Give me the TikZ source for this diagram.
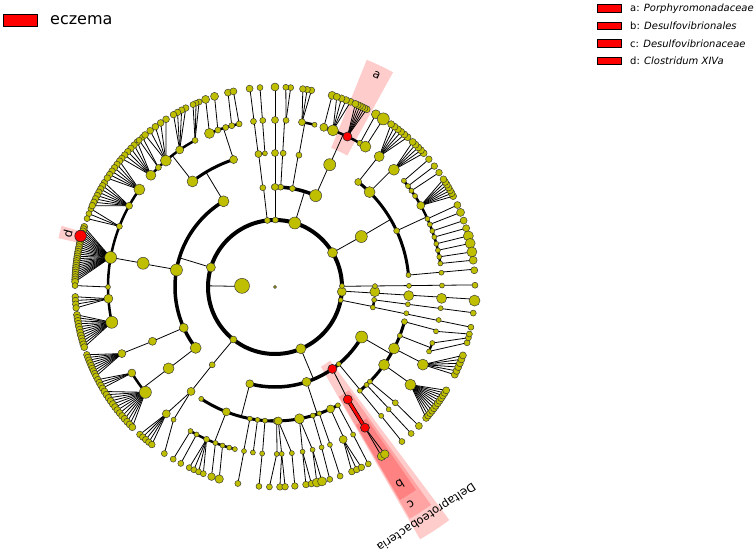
\documentclass[tikz,border=0pt]{standalone}
\usepackage{fontspec}
\usepackage{etoolbox}
\setmainfont{DejaVu Sans}
\definecolor{yel}{RGB}{191,191,0}
\tikzset{
  yn/.style={fill=yel, draw=black!80, line width=0.45pt},
  rn/.style={fill=red, draw=black!85, line width=0.6pt},
  tl/.style={line width=0.8pt, draw=black},
  hl/.style={fill=red, fill opacity=0.2},
  lab/.style={font=\fontsize{12}{14}\selectfont, inner sep=0pt},
  legbox/.style={fill=red, draw=black, line width=0.8pt},
  legtxt/.style={anchor=west, inner sep=0pt, font=\fontsize{10}{12}\selectfont},
}
\newcommand\nodelist{}
\newcommand\cnd[3]{\xappto\nodelist{\noexpand\filldraw[yn] (#1:#2pt) circle[radius=#3pt];}}
\newcommand\crn[3]{\xappto\nodelist{\noexpand\filldraw[rn] (#1:#2pt) circle[radius=#3pt];}}
\newcommand\crad[3]{\draw[tl] (#1:#2pt) -- (#1:#3pt);}
\newcommand\clnk[4]{\draw[tl] (#1:#2pt) -- (#3:#4pt);}
\newcommand\carc[4]{\draw[line width=#4pt] (#2:#1pt) arc[start angle=#2, end angle=#3, radius=#1pt];}
\newcommand\cfan[5]{\foreach \ii in {1,...,#4}{\pgfmathsetmacro\ang{#2+(\ii-1)*(#3-#2)/max(#4-1,1)}\draw[tl] (#1:167pt) -- (\ang:200pt);\xappto\nodelist{\noexpand\filldraw[yn] (\ang:200pt) circle[radius=#5pt];}}}
\newcommand\cleaf[3]{\cfan{#1}{#2}{#2}{1}{#3}}
\newcommand\cwedge[4]{\fill[hl] (#1:#3pt) arc[start angle=#1,end angle=#2,radius=#3pt] -- (#2:#4pt) arc[start angle=#2,end angle=#1,radius=#4pt] -- cycle;}
\begin{document}
\begin{tikzpicture}
\useasboundingbox (-275pt,-267pt) rectangle (481pt,287pt);
% highlights
\cwedge{61.2}{68}{150}{245}
\cwedge{164}{167.3}{198}{222}
\cwedge{-60.1}{-53.2}{92}{291}
\cwedge{-59.8}{-54.4}{127}{268}
\cwedge{-59.6}{-55.2}{160}{247}
% root and phylum ring
\draw[line width=4pt] (0,0) circle[radius=67pt];
\cnd{0}{0}{1.5}
\crad{179}{33}{67}
\cnd{178}{33}{7.5}
% ---- phylum 163
\crad{163}{67}{100}
\carc{100}{121}{217.5}{3.5}
\cnd{163}{67}{4.5}
\crad{121}{100}{134}
\carc{134}{108}{128}{3}
\cnd{121}{100}{5.5}
\crad{128}{134}{167}
\carc{167}{118.6}{138}{2.5}
\cnd{128}{134}{5.5}
\cfan{138}{133.5}{140}{6}{3.3}\cnd{138}{167}{5}
\cfan{134.3}{131.5}{132.8}{2}{3}\cnd{134.3}{167}{3}
\cfan{130.8}{123}{130.5}{5}{3.4}\cnd{130.8}{167}{5.5}
\cfan{124.8}{116.5}{120.5}{4}{3.3}\cnd{124.8}{167}{4}
\cfan{118.6}{112.3}{114.2}{3}{3}\cnd{118.6}{167}{3}
\crad{108}{134}{167}
\carc{167}{102.4}{113.1}{2.5}
\cnd{108}{134}{4}
\cleaf{113.1}{110.3}{4}\cnd{113.1}{167}{5}
\cleaf{110}{107.6}{4}\cnd{110}{167}{3}
\cnd{107.2}{167}{3}
\cleaf{105}{103.6}{3.5}\cnd{105}{167}{3}
\cleaf{102.4}{102}{3.5}\cnd{102.4}{167}{3}
% class 170
\cnd{170.2}{100}{6}
\crad{170}{100}{134}
\cnd{169.8}{134}{6}
\crad{169.8}{134}{167}
\carc{167}{144.3}{192.2}{2.5}
\cfan{169.8}{162.5}{178.5}{25}{3.5}\cnd{169.8}{167}{6}
\crn{165.3}{201}{5.8}
\cfan{158.7}{157}{160}{3}{3}\cnd{158.7}{167}{3}
\cfan{150.9}{148.5}{156}{8}{3.3}\cnd{150.9}{167}{3.5}
\cfan{144.3}{141}{147}{6}{3.3}\cnd{144.3}{167}{5.5}
\cleaf{180}{179.6}{3}\cnd{180}{167}{2.5}
\cfan{184}{182.8}{186}{4}{3.3}\cnd{184}{167}{4.5}
\cfan{192.2}{188}{197.5}{12}{3.5}\cnd{192.2}{167}{6}
% class 204
\cnd{204.1}{100}{4.5}
\clnk{204.1}{100}{203.9}{134}
\cnd{203.9}{134}{4}
\clnk{203.9}{134}{203.5}{167}
\cfan{203.5}{199.8}{206.5}{9}{3.3}\cnd{203.5}{167}{4}
% class 217.5
\cnd{217.5}{100}{5.5}
\crad{217.5}{100}{134}
\cnd{217.4}{134}{5.5}
\crad{217.4}{134}{167}
\carc{167}{211}{219.1}{2.5}
\cfan{211}{207.6}{210.4}{4}{3.3}\cnd{211}{167}{4}
\cfan{219.1}{211.5}{224.5}{13}{3.5}\cnd{219.1}{167}{6}
% ---- phylum 231.6
\clnk{231.6}{67}{231.1}{100}
\cnd{231.6}{67}{3.5}
\clnk{231.1}{100}{231.2}{134}
\cnd{231.1}{100}{3}
\cnd{231.2}{134}{4}
\clnk{231.2}{134}{229.4}{167}
\clnk{231.2}{134}{232.6}{167}
\cfan{229.4}{227.5}{232}{5}{3.3}\cnd{229.4}{167}{4}
\cleaf{232.6}{236.4}{3}\cnd{232.6}{167}{2.5}
% ---- phylum 292.7
\crad{292.7}{67}{100}
\carc{100}{255.4}{330}{3.5}
\cnd{292.7}{67}{5}
% class 255.4
\crad{255.4}{100}{134}
\carc{134}{236.6}{270.7}{3}
\cnd{255.4}{100}{4}
\cnd{236.6}{134}{2.5}
\crad{248.7}{134}{167}
\carc{167}{239.6}{256.1}{2.5}
\cnd{248.7}{134}{4}
\cleaf{239.6}{239.4}{3}\cnd{239.6}{167}{2.5}
\cleaf{242}{241.9}{3}\cnd{242}{167}{2.5}
\cfan{245.8}{244.6}{249}{4}{3}\cnd{245.8}{167}{3}
\cleaf{249.1}{251.5}{3.8}\cnd{249.1}{167}{2.5}
\cleaf{251.7}{253.8}{4.2}\cnd{251.7}{167}{2.5}
\cnd{254.1}{167}{2.5}
\cnd{256.1}{167}{2.5}
\crad{259.2}{134}{167}\cnd{259.2}{134}{2.5}\cleaf{259.3}{259.3}{3}\cnd{259.3}{167}{2.5}
\crad{262.5}{134}{167}\cnd{262.5}{134}{2.5}\cnd{262.4}{167}{2.5}
\crad{265.7}{134}{167}\cnd{265.7}{134}{2.5}\cleaf{265.6}{265.4}{3}\cnd{265.6}{167}{2.5}
\crad{270.7}{134}{167}\cnd{270.7}{134}{3.5}\cleaf{270.6}{268.4}{3}\cnd{270.6}{167}{2.5}
% class 288.4
\crad{288.4}{100}{134}
\carc{134}{268}{298.8}{3}
\cnd{288.4}{100}{4.5}
\clnk{271.4}{134}{272.3}{167}\clnk{271.4}{134}{275.8}{167}\cnd{271.4}{134}{4}
\cfan{272.3}{271.4}{272.9}{2}{3.3}\cnd{272.3}{167}{2.5}
\cleaf{275.8}{275.7}{3.3}\cnd{275.8}{167}{2.5}
\clnk{280.5}{134}{279.5}{167}\clnk{280.5}{134}{283}{167}\cnd{280.5}{134}{5}
\cfan{279.5}{278.9}{280.5}{2}{3.3}\cnd{279.5}{167}{2.5}
\cfan{283}{282.1}{283.6}{2}{4.5}\cnd{283}{167}{2.5}
\crad{286.4}{134}{167}\cnd{286.4}{134}{2.5}\cleaf{286.2}{285.9}{3}\cnd{286.2}{167}{2.5}
\crad{289.3}{134}{167}\cnd{289.3}{134}{2.5}\cleaf{289.2}{289}{3}\cnd{289.2}{167}{2.5}
\crad{294.5}{134}{167}\cnd{294.5}{134}{4}\cfan{294.1}{292.6}{295.6}{3}{3.3}\cnd{294.1}{167}{4}
\crad{298}{134}{167}\cnd{298}{134}{2.5}\cleaf{297.9}{297.8}{3}\cnd{297.9}{167}{2.5}
% class 305 (Deltaproteobacteria)
\clnk{305}{100}{302.9}{134}
\draw[black, line width=4pt] (302.9:134pt) -- (302.6:167pt);
\draw[red, line width=2.6pt] (302.9:134pt) -- (302.6:167pt);
\cfan{302.6}{302.2}{303.3}{2}{4.3}
\crn{305}{100}{4.5}\crn{302.9}{134}{4.5}\crn{302.6}{167}{4.5}
% class 309.6
\crad{309.6}{100}{134}\cnd{309.6}{100}{2.5}
% class 330
\crad{330}{100}{134}
\carc{134}{309.3}{345}{3}
\cnd{330}{100}{6}
\crad{309.3}{134}{167}\cnd{309.3}{134}{2.5}\cleaf{309.5}{309.4}{3}\cnd{309.5}{167}{2.5}
\crad{313.1}{134}{167}\cnd{313.1}{134}{2.5}\cleaf{312.9}{312.9}{3}\cnd{312.9}{167}{2.5}
\clnk{315.1}{134}{316.1}{167}\cnd{315.1}{134}{2.5}\cleaf{316.1}{316}{3.5}\cnd{316.1}{167}{3}
\crad{324.5}{134}{167}\cnd{324.5}{134}{5.5}\cfan{324.2}{319.1}{328.9}{12}{3.5}\cnd{324.2}{167}{5.5}
\crad{332.7}{134}{167}\cnd{332.7}{134}{5.5}\cfan{332.3}{334}{340}{6}{3.5}\cnd{332.3}{167}{5.5}
\crad{338.7}{134}{167}\carc{167}{337.3}{340.4}{2}\cnd{338.7}{134}{2.5}
\cleaf{337.3}{343.8}{3}\cnd{337.3}{167}{2.5}
\cleaf{340.4}{345.3}{3}\cnd{340.4}{167}{2.5}
\crad{345}{134}{167}\cnd{345}{134}{3}\cleaf{344.6}{346.4}{3}\cnd{344.6}{167}{2.5}
% ---- phyla near 0
\crad{348.7}{67}{100}\carc{100}{348.2}{352.6}{2.5}\cnd{348.7}{67}{2.5}
\crad{348.4}{100}{200}\cnd{348.2}{100}{2.5}\cnd{348.7}{134}{2.5}\cnd{348.6}{167}{2.5}\cnd{348.4}{200}{3}
\crad{352.6}{100}{200}\cnd{352.6}{100}{2.5}\cnd{352.6}{134}{2.5}\cnd{352.7}{167}{2.5}\cnd{352.5}{200}{3}
\crad{356.5}{67}{200}\cnd{356}{67}{4.5}\cnd{357.3}{100}{5}\cnd{356.3}{134}{5}\cnd{356.1}{167}{5}\cnd{356.1}{200}{5.5}
\crad{0.6}{67}{200}\cnd{0.85}{67}{2.5}\cnd{0.5}{100}{2.5}\cnd{0.5}{134}{2.5}\cnd{0.5}{167}{2.5}\cnd{0.5}{200}{3}
% ---- phylum 30.8
\clnk{30.8}{67}{30.3}{100}\cnd{30.8}{67}{5}
\crad{30.3}{100}{134}\carc{134}{5.1}{51.6}{3}\cnd{30.3}{100}{6}
\crad{5.1}{134}{200}\cnd{5.1}{134}{2.5}\cnd{4.9}{167}{2.5}\cnd{4.8}{200}{3.5}
\crad{24.8}{134}{167}\carc{167}{8.1}{39.5}{2.5}\cnd{24.8}{134}{3}
\cleaf{39.5}{39.7}{3.3}\cnd{39.5}{167}{2.5}
\cleaf{37.2}{37.2}{3.3}\cnd{37.2}{167}{2.5}
\cleaf{35.2}{34.9}{3.3}\cnd{35.2}{167}{2.5}
\cnd{33}{167}{2.5}
\cfan{29.2}{27}{32.6}{7}{3.4}\cnd{29.2}{167}{4}
\cleaf{24.1}{24.2}{3.5}\cnd{24.1}{167}{2.5}
\cleaf{22}{21.9}{4}\cnd{22}{167}{2.5}
\cleaf{19.6}{19.4}{3.5}\cnd{19.6}{167}{2.5}
\cleaf{17.4}{17.1}{3.5}\cnd{17.4}{167}{2.5}
\cleaf{15}{14.8}{5}\cnd{15}{167}{2.5}
\cleaf{12.7}{12.6}{5}\cnd{12.7}{167}{2.5}
\cleaf{10.4}{10.1}{5}\cnd{10.4}{167}{2.5}
\cleaf{8.1}{7.7}{4}\cnd{8.1}{167}{2.5}
\crad{45.1}{134}{167}\cnd{45.1}{134}{5.5}\cfan{44.6}{42}{46.5}{5}{3.5}\cnd{44.6}{167}{5.5}
\crad{51.6}{134}{167}\cnd{51.6}{134}{3.5}\cfan{51.4}{48.5}{54.5}{6}{3.5}\cnd{51.4}{167}{5}
% ---- phylum 72.8
\crad{72.8}{67}{100}\carc{100}{66}{92}{3.5}\cnd{72.8}{67}{6}
\crad{66}{100}{134}\cnd{66}{100}{6}
\crad{65.9}{134}{167}\cnd{65.9}{134}{6}
\carc{167}{57.2}{73}{2.5}
\cleaf{73}{73.4}{4}\cnd{73}{167}{4}
\cfan{69.7}{67.8}{72}{4}{3.5}\cnd{69.7}{167}{5.5}
\cfan{64.3}{62.7}{66.3}{6}{3.5}\crn{64.3}{167}{4.5}
\cleaf{59.4}{59.7}{4.5}\cnd{59.4}{167}{3}
\cleaf{57.2}{57.2}{6}\cnd{57.2}{167}{5.5}
\crad{80}{100}{134}\cnd{80}{100}{3}
\crad{79.7}{134}{167}\cnd{79.7}{134}{3}
\carc{167}{76.3}{80.7}{2.5}
\cfan{80.7}{79.5}{82}{3}{3.3}\cnd{80.7}{167}{3.5}
\cnd{76.3}{167}{2.5}
\crad{86.7}{100}{167}\cnd{86.8}{100}{3}\cnd{86.5}{134}{3}
\cfan{86.2}{85.5}{86.9}{2}{3}\cnd{86.2}{167}{3}
% ---- phyla 89.7 and 96.6
\crad{90}{67}{200}\cnd{89.7}{67}{3}\cnd{90}{100}{3.5}\cnd{90}{134}{3.5}\cnd{90}{167}{3.5}\cnd{90}{200}{4}
\crad{96.6}{67}{100}\cnd{96.6}{67}{3}
\crad{97}{100}{134}\cnd{97}{100}{3}
\carc{134}{94.3}{97.1}{2}
\crad{97.2}{134}{200}\cnd{97.1}{134}{3.5}\cnd{97.4}{167}{3}\cnd{97.3}{200}{3.5}
\crad{94.3}{134}{200}\cnd{94.3}{134}{2.5}\cnd{94.2}{167}{3}\cnd{94.3}{200}{3}
% all nodes on top
\nodelist
% labels
\node[lab, rotate=-25.5] (la) at (64.4:235pt) {a};
\node[lab, rotate=75.5] (ld) at (165.6:214pt) {d};
\node[lab, rotate=-147.7] (lb) at (-57.7:234pt) {b};
\node[lab, rotate=-148] (lc) at (-58:256pt) {c};
\node[lab, font=\fontsize{11.5}{13}\selectfont, rotate=-146.7] (ldel) at (-56.7:275pt) {Deltaproteobacteria};
% legends
\filldraw[legbox, line width=0.9pt] (-272pt,260.5pt) rectangle (-238pt,273pt);
\node[anchor=west, inner sep=0pt, font=\fontsize{16}{19}\selectfont] (ecz) at (-225pt,266.5pt) {eczema};
\filldraw[legbox] (322pt,274.7pt) rectangle (346pt,282.3pt);
\node[legtxt] (la1) at (355pt,278.5pt) {a: \textit{Porphyromonadaceae}};
\filldraw[legbox] (322pt,257.2pt) rectangle (346pt,264.8pt);
\node[legtxt] (la2) at (355pt,261pt) {b: \textit{Desulfovibrionales}};
\filldraw[legbox] (322pt,239.7pt) rectangle (346pt,247.3pt);
\node[legtxt] (la3) at (355pt,243.5pt) {c: \textit{Desulfovibrionaceae}};
\filldraw[legbox] (322pt,222.2pt) rectangle (346pt,229.8pt);
\node[legtxt] (la4) at (355pt,226pt) {d: \textit{Clostridum XIVa}};
\end{tikzpicture}
\end{document}
